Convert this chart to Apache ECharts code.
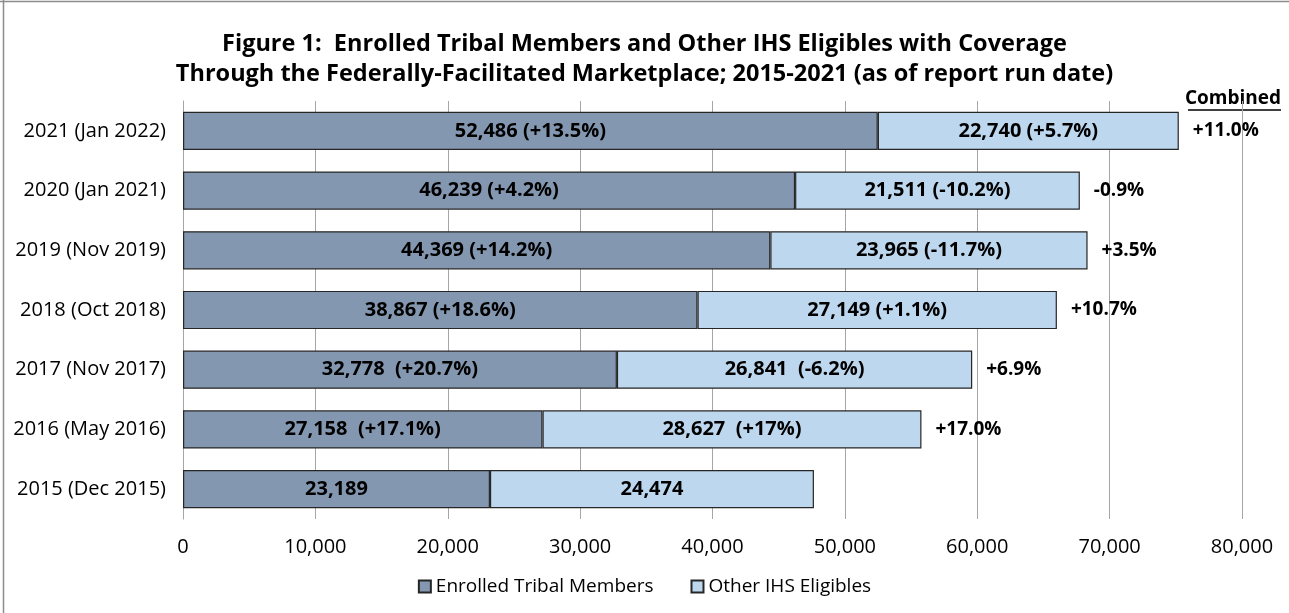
<!DOCTYPE html>
<html><head><meta charset="utf-8">
<script src="https://cdn.jsdelivr.net/npm/echarts@6/dist/echarts.min.js"></script>
<style>html,body{margin:0;padding:0;background:#fff}#c{width:1289px;height:613px}</style>
</head><body><div id="c"></div>
<script>
const categories = ['2021 (Jan 2022)','2020 (Jan 2021)','2019 (Nov 2019)','2018 (Oct 2018)','2017 (Nov 2017)','2016 (May 2016)','2015 (Dec 2015)'];
const enrolled = [52486, 46239, 44369, 38867, 32778, 27158, 23189];
const enrolledPct = [' (+13.5%)',' (+4.2%)',' (+14.2%)',' (+18.6%)','  (+20.7%)','  (+17.1%)',''];
const other = [22740, 21511, 23965, 27149, 26841, 28627, 24474];
const otherPct = [' (+5.7%)',' (-10.2%)',' (-11.7%)',' (+1.1%)','  (-6.2%)','  (+17%)',''];
const combinedPct = ['+11.0%','-0.9%','+3.5%','+10.7%','+6.9%','+17.0%',''];
const xTicks = [0,10000,20000,30000,40000,50000,60000,70000,80000];

const FONT = '"Open Sans", sans-serif';
const fmt = v => v.toLocaleString('en-US');
const chart = echarts.init(document.getElementById('c'));
chart.setOption({
  animation:false,
  textStyle:{fontFamily:FONT},
  title:{
    text:'Figure 1:  Enrolled Tribal Members and Other IHS Eligibles with Coverage\nThrough the Federally-Facilitated Marketplace; 2015-2021 (as of report run date)',
    left:'center', top:24,
    textStyle:{fontFamily:FONT,fontSize:23.5,fontWeight:'bold',color:'#000',lineHeight:30}
  },
  graphic:[
    {type:'line',shape:{x1:0,y1:1.5,x2:1289,y2:1.5},style:{stroke:'#8c8c8c',lineWidth:1.5}},
    {type:'line',shape:{x1:3.5,y1:0,x2:3.5,y2:613},style:{stroke:'#8c8c8c',lineWidth:1.5}},
    {type:'text',x:1281,y:99,style:{text:'Combined',x:0,y:0,align:'right',verticalAlign:'middle',fontFamily:FONT,fontSize:19,fontWeight:'bold',fill:'#000'}},
    {type:'line',shape:{x1:1188,y1:110,x2:1281,y2:110},style:{stroke:'#000',lineWidth:1.5}}
  ],
  legend:{
    bottom:12, left:'center', itemWidth:12, itemHeight:12, itemGap:37,
    icon:'rect',
    textStyle:{fontFamily:FONT,fontSize:19,color:'#000'},
    data:['Enrolled Tribal Members','Other IHS Eligibles']
  },
  grid:{left:183,right:47,top:101,bottom:94,containLabel:false},
  xAxis:{
    type:'value',min:0,max:80000,interval:10000,
    axisLine:{show:false},axisTick:{show:false},
    splitLine:{show:true,lineStyle:{color:'#a6a6a6',width:1}},
    axisLabel:{fontFamily:FONT,fontSize:20,color:'#000',margin:18,formatter:v=>fmt(v)}
  },
  yAxis:{
    type:'category',data:categories,inverse:true,
    axisLine:{show:true,lineStyle:{color:'#a6a6a6'}},axisTick:{show:false},
    axisLabel:{fontFamily:FONT,fontSize:20,color:'#000',margin:17}
  },
  series:[
    {name:'Enrolled Tribal Members',type:'bar',stack:'t',barWidth:'64%',data:enrolled,
     itemStyle:{color:'#8497B0',borderColor:'#262626',borderWidth:1.2},
     label:{show:true,position:'inside',fontFamily:FONT,fontSize:20,fontWeight:'bold',color:'#000',
       formatter:p=>fmt(p.value)+enrolledPct[p.dataIndex]}},
    {name:'Other IHS Eligibles',type:'bar',stack:'t',data:other,
     itemStyle:{color:'#BDD7EE',borderColor:'#262626',borderWidth:1.2},
     label:{show:true,position:'inside',fontFamily:FONT,fontSize:20,fontWeight:'bold',color:'#000',
       formatter:p=>fmt(p.value)+otherPct[p.dataIndex]}},
    {name:'Combined',type:'bar',stack:'t',data:combinedPct.map(()=>0),
     itemStyle:{color:'transparent'},silent:true,
     label:{show:true,position:'right',distance:14,fontFamily:FONT,fontSize:19,fontWeight:'bold',color:'#000',
       formatter:p=>combinedPct[p.dataIndex]}}
  ]
});
</script></body></html>
